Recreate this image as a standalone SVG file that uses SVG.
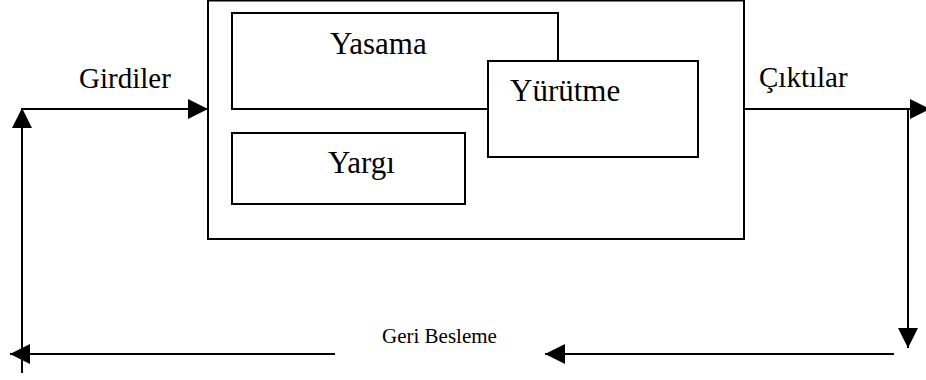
<svg xmlns="http://www.w3.org/2000/svg" width="926" height="380" viewBox="0 0 926 380">
<style>
.box{fill:#fff;stroke:#000;stroke-width:2}
text{font-family:"Liberation Serif","Times New Roman",serif;fill:#000}
.big{font-size:31px}
.side{font-size:29px}
.small{font-size:21px}
.conn{fill:none;stroke:#000;stroke-width:2}
</style>
<defs>
<marker id="arr" viewBox="0 0 20 20" markerUnits="userSpaceOnUse" markerWidth="20" markerHeight="20" refX="20" refY="10" orient="auto">
<path d="M0,0 L20,10 L0,20 z" fill="#000"/>
</marker>
</defs>
<rect width="926" height="380" fill="#fff"/>
<g id="system">
<rect class="box" x="208" y="0.5" width="536" height="238.5"/>
</g>
<g id="yasama">
<rect class="box" x="232" y="13" width="326" height="96"/>
<text class="big" font-family="Liberation Serif, serif" x="330" y="54">Yasama</text>
</g>
<g id="yurutme">
<rect class="box" x="488" y="61" width="210" height="96"/>
<text class="big" font-family="Liberation Serif, serif" x="510" y="101">Yürütme</text>
</g>
<g id="yargi">
<rect class="box" x="232" y="133" width="233" height="71"/>
<text class="big" font-family="Liberation Serif, serif" x="328" y="173">Yargı</text>
</g>
<g id="labels">
<text class="side" font-family="Liberation Serif, serif" x="79" y="88">Girdiler</text>
<text class="side" font-family="Liberation Serif, serif" x="759" y="87">Çıktılar</text>
<text class="small" font-family="Liberation Serif, serif" x="382" y="343">Geri Besleme</text>
</g>
<g id="connectors">
<line class="conn" x1="22" y1="109" x2="208" y2="109" marker-end="url(#arr)"/>
<line class="conn" x1="744" y1="109" x2="930" y2="109" marker-end="url(#arr)"/>
<line class="conn" x1="908" y1="109" x2="908" y2="348" marker-end="url(#arr)"/>
<line class="conn" x1="894" y1="354" x2="545" y2="354" marker-end="url(#arr)"/>
<line class="conn" x1="335" y1="354" x2="10" y2="354" marker-end="url(#arr)"/>
<line class="conn" x1="22" y1="373" x2="22" y2="108" marker-end="url(#arr)"/>
</g>
</svg>
